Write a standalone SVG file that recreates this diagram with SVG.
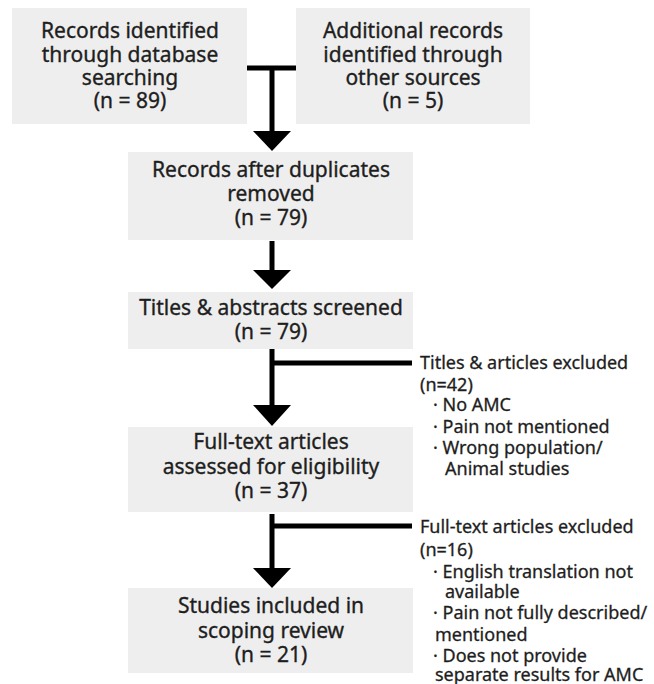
<svg xmlns="http://www.w3.org/2000/svg" width="654" height="684" viewBox="0 0 654 684">
<style>
.box{fill:#eeeeee}
.t{font-family:"Noto Sans","Open Sans",sans-serif;font-size:21px;fill:#1e1e1e;stroke:#1e1e1e;stroke-width:0.35;text-anchor:middle}
.s{font-family:"Noto Sans","Open Sans",sans-serif;font-size:18px;fill:#1e1e1e;stroke:#1e1e1e;stroke-width:0.3}
.ln{stroke:#000;stroke-width:5;fill:none}
.hd{fill:#000}
</style>
<rect width="654" height="684" fill="#fff"/>
<g id="n1">
<rect class="box" x="12" y="8" width="235" height="116"/>
<text class="t" x="130" y="38">Records identified</text>
<text class="t" x="130" y="62">through database</text>
<text class="t" x="130" y="85">searching</text>
<text class="t" x="130" y="108">(n = 89)</text>
</g>
<g id="n2">
<rect class="box" x="296" y="8" width="234" height="116"/>
<text class="t" x="413" y="38">Additional records</text>
<text class="t" x="413" y="62">identified through</text>
<text class="t" x="413" y="85">other sources</text>
<text class="t" x="413" y="108">(n = 5)</text>
</g>
<g id="n3">
<rect class="box" x="128" y="152" width="285" height="88"/>
<text class="t" x="271" y="177">Records after duplicates</text>
<text class="t" x="271" y="201">removed</text>
<text class="t" x="271" y="225">(n = 79)</text>
</g>
<g id="n4">
<rect class="box" x="128" y="292" width="285" height="57"/>
<text class="t" x="271" y="315">Titles &amp; abstracts screened</text>
<text class="t" x="271" y="339">(n = 79)</text>
</g>
<g id="n5">
<rect class="box" x="128" y="427" width="285" height="85"/>
<text class="t" x="271" y="449">Full-text articles</text>
<text class="t" x="271" y="474">assessed for eligibility</text>
<text class="t" x="271" y="498">(n = 37)</text>
</g>
<g id="n6">
<rect class="box" x="128" y="588" width="285" height="85"/>
<text class="t" x="271" y="613">Studies included in</text>
<text class="t" x="271" y="638">scoping review</text>
<text class="t" x="271" y="662">(n = 21)</text>
</g>
<g id="ex1">
<text class="s" x="420" y="369">Titles &amp; articles excluded</text>
<text class="s" x="420" y="391">(n=42)</text>
<text class="s" x="433" y="411">· No AMC</text>
<text class="s" x="433" y="433">· Pain not mentioned</text>
<text class="s" x="433" y="454">· Wrong population/</text>
<text class="s" x="445" y="475">Animal studies</text>
</g>
<g id="ex2">
<text class="s" x="420" y="533">Full-text articles excluded</text>
<text class="s" x="420" y="556">(n=16)</text>
<text class="s" x="433" y="578">· English translation not</text>
<text class="s" x="445" y="598">available</text>
<text class="s" x="433" y="619">· Pain not fully described/</text>
<text class="s" x="435" y="641">mentioned</text>
<text class="s" x="433" y="662">· Does not provide</text>
<text class="s" x="435" y="681">separate results for AMC</text>
</g>
<g id="connectors">
<path class="ln" d="M247 68H296M272 68V132"/>
<polygon class="hd" points="253,131 291,131 272,151"/>
<path class="ln" d="M272 241V272"/>
<polygon class="hd" points="253,270 291,270 272,289"/>
<path class="ln" d="M272 349V407M272 363H412"/>
<polygon class="hd" points="253,405 291,405 272,426"/>
<path class="ln" d="M272 514V570M272 526H412"/>
<polygon class="hd" points="253,568 291,568 272,588"/>
</g>
</svg>
